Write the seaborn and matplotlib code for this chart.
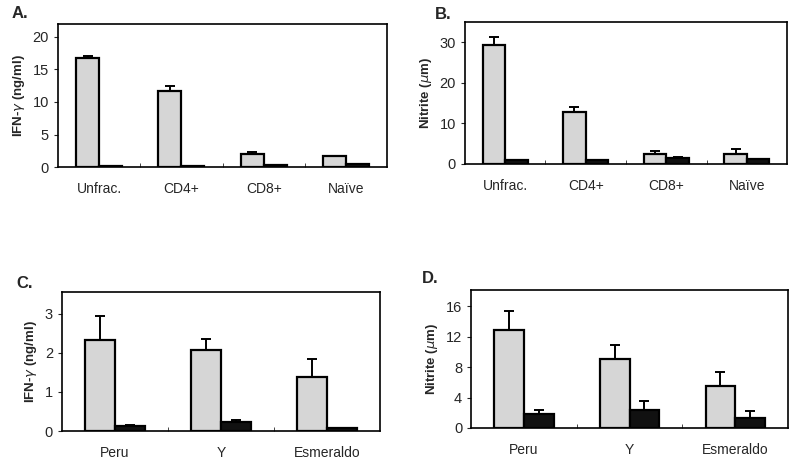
import pandas as pd
import numpy as np
import seaborn as sns
import matplotlib.pyplot as plt
from matplotlib.ticker import FixedLocator

# panel A / B: cell fractions
cells = ['Unfrac.', 'CD4+', 'CD8+', 'Naïve']
ifn_cells_stim = [16.8, 11.7, 1.95, 1.7]
ifn_cells_stim_err = [0.2, 0.8, 0.4, 0.05]
ifn_cells_ctrl = [0.2, 0.1, 0.25, 0.5]
ifn_cells_ctrl_err = [0.0, 0.0, 0.0, 0.0]

no_cells_stim = [29.2, 12.7, 2.5, 2.5]
no_cells_stim_err = [2.1, 1.4, 0.7, 1.1]
no_cells_ctrl = [1.0, 0.9, 1.4, 1.2]
no_cells_ctrl_err = [0.0, 0.0, 0.2, 0.0]

# panel C / D: parasite strains
strains = ['Peru', 'Y', 'Esmeraldo']
ifn_str_stim = [2.33, 2.08, 1.38]
ifn_str_stim_err = [0.6, 0.28, 0.45]
ifn_str_ctrl = [0.12, 0.22, 0.07]
ifn_str_ctrl_err = [0.03, 0.06, 0.0]

no_str_stim = [12.85, 9.0, 5.5]
no_str_stim_err = [2.45, 1.9, 1.9]
no_str_ctrl = [1.9, 2.3, 1.3]
no_str_ctrl_err = [0.4, 1.2, 0.9]

groups = ['stimulated', 'control']
colors = ['#d6d6d6', '#111111']

sns.set_style('white')
plt.rcParams['font.family'] = ['Liberation Sans', 'DejaVu Sans']

fig = plt.figure(figsize=(8, 4.68), dpi=100)


def panel(rect, cats, stim, stim_err, ctrl, ctrl_err, ylim, yticks, ylabel, letter, lpos):
    ax = fig.add_axes(rect)
    df = pd.DataFrame({
        'cat': cats * 2,
        'val': stim + ctrl,
        'grp': [groups[0]] * len(cats) + [groups[1]] * len(cats),
    })
    sns.barplot(data=df, x='cat', y='val', hue='grp', hue_order=groups,
                palette=colors, width=0.56, edgecolor='black', linewidth=1.6,
                errorbar=None, legend=False, ax=ax)
    for cont, err in zip(ax.containers, [stim_err, ctrl_err]):
        xs = [b.get_x() + b.get_width() / 2 for b in cont]
        hs = [b.get_height() for b in cont]
        ax.errorbar(xs, hs, yerr=[np.zeros(len(err)), err], fmt='none',
                    ecolor='black', elinewidth=1.4, capsize=3.5, capthick=1.4)
    ax.set_ylim(*ylim)
    ax.set_yticks(yticks)
    ax.set_xlim(-0.5, len(cats) - 0.5)
    ax.set_xlabel('')
    ax.set_ylabel(ylabel, fontsize=9.5, fontweight='bold')
    ax.tick_params(axis='x', length=0, labelsize=10, pad=11)
    ax.tick_params(axis='y', length=3, direction='out', labelsize=10.5, left=True)
    ax.xaxis.set_minor_locator(FixedLocator(np.arange(0.5, len(cats) - 0.5, 1)))
    ax.tick_params(axis='x', which='minor', length=3, direction='in', bottom=True)
    for s in ax.spines.values():
        s.set_color('black')
        s.set_linewidth(1.2)
    fig.text(lpos[0], lpos[1], letter, fontsize=12, fontweight='bold',
             ha='left', va='center')
    return ax


panel([0.0725, 0.643, 0.4115, 0.306], cells, ifn_cells_stim, ifn_cells_stim_err,
      ifn_cells_ctrl, ifn_cells_ctrl_err, (0, 22), [0, 5, 10, 15, 20],
      'IFN-$\\gamma$ (ng/ml)', 'A.', (0.014, 0.972))
panel([0.581, 0.650, 0.403, 0.303], cells, no_cells_stim, no_cells_stim_err,
      no_cells_ctrl, no_cells_ctrl_err, (0, 35), [0, 10, 20, 30],
      'Nitrite ($\\mu$m)', 'B.', (0.543, 0.968))
panel([0.0775, 0.079, 0.3975, 0.297], strains, ifn_str_stim, ifn_str_stim_err,
      ifn_str_ctrl, ifn_str_ctrl_err, (0, 3.55), [0, 1, 2, 3],
      'IFN-$\\gamma$ (ng/ml)', 'C.', (0.021, 0.395))
panel([0.589, 0.0855, 0.396, 0.2945], strains, no_str_stim, no_str_stim_err,
      no_str_ctrl, no_str_ctrl_err, (0, 18.1), [0, 4, 8, 12, 16],
      'Nitrite ($\\mu$m)', 'D.', (0.527, 0.405))

fig.savefig('out.png', dpi=100)
